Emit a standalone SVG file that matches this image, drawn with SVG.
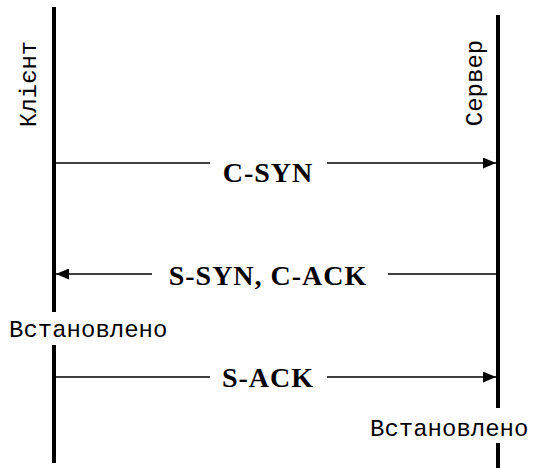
<svg xmlns="http://www.w3.org/2000/svg" width="535" height="468" viewBox="0 0 535 468">
<style>
.life{stroke:#000;stroke-width:4;fill:none}
.msg{stroke:#000;stroke-width:1.6;fill:none}
.lbl{font-family:"Liberation Serif","Times New Roman",serif;font-weight:bold;font-size:28px;letter-spacing:1px;fill:#000;text-anchor:middle}
.mono{font-family:"Liberation Mono","Courier New",monospace;font-size:24px;fill:#000}
</style>
<defs>
<marker id="ah" viewBox="0 0 13 11" refX="13" refY="5.5" markerWidth="13" markerHeight="11" markerUnits="userSpaceOnUse" orient="auto">
<path d="M0,0 L13,5.5 L0,11 Z" fill="#000"/>
</marker>
</defs>
<g id="client">
<line class="life" x1="54" y1="7" x2="54" y2="312"/>
<line class="life" x1="54" y1="345" x2="54" y2="463"/>
<text class="mono" text-anchor="middle" transform="translate(36,84) rotate(-90)">Клієнт</text>
<text class="mono" x="9" y="337">Встановлено</text>
</g>
<g id="server">
<line class="life" x1="498" y1="15" x2="498" y2="408"/>
<line class="life" x1="498" y1="443" x2="498" y2="468"/>
<text class="mono" text-anchor="middle" transform="translate(482,83) rotate(-90)">Сервер</text>
<text class="mono" x="370" y="436">Встановлено</text>
</g>
<g id="connectors">
<g id="c-syn">
<line class="msg" x1="56" y1="163" x2="210" y2="163"/>
<line class="msg" x1="327" y1="163" x2="496" y2="163" marker-end="url(#ah)"/>
<text class="lbl" x="268" y="182">C-SYN</text>
</g>
<g id="s-syn-c-ack">
<line class="msg" x1="496" y1="274" x2="388" y2="274"/>
<line class="msg" x1="152" y1="274" x2="56" y2="274" marker-end="url(#ah)"/>
<text class="lbl" x="268" y="285">S-SYN, C-ACK</text>
</g>
<g id="s-ack">
<line class="msg" x1="56" y1="377" x2="210" y2="377"/>
<line class="msg" x1="327" y1="377" x2="496" y2="377" marker-end="url(#ah)"/>
<text class="lbl" x="268" y="387">S-ACK</text>
</g>
</g>
</svg>
